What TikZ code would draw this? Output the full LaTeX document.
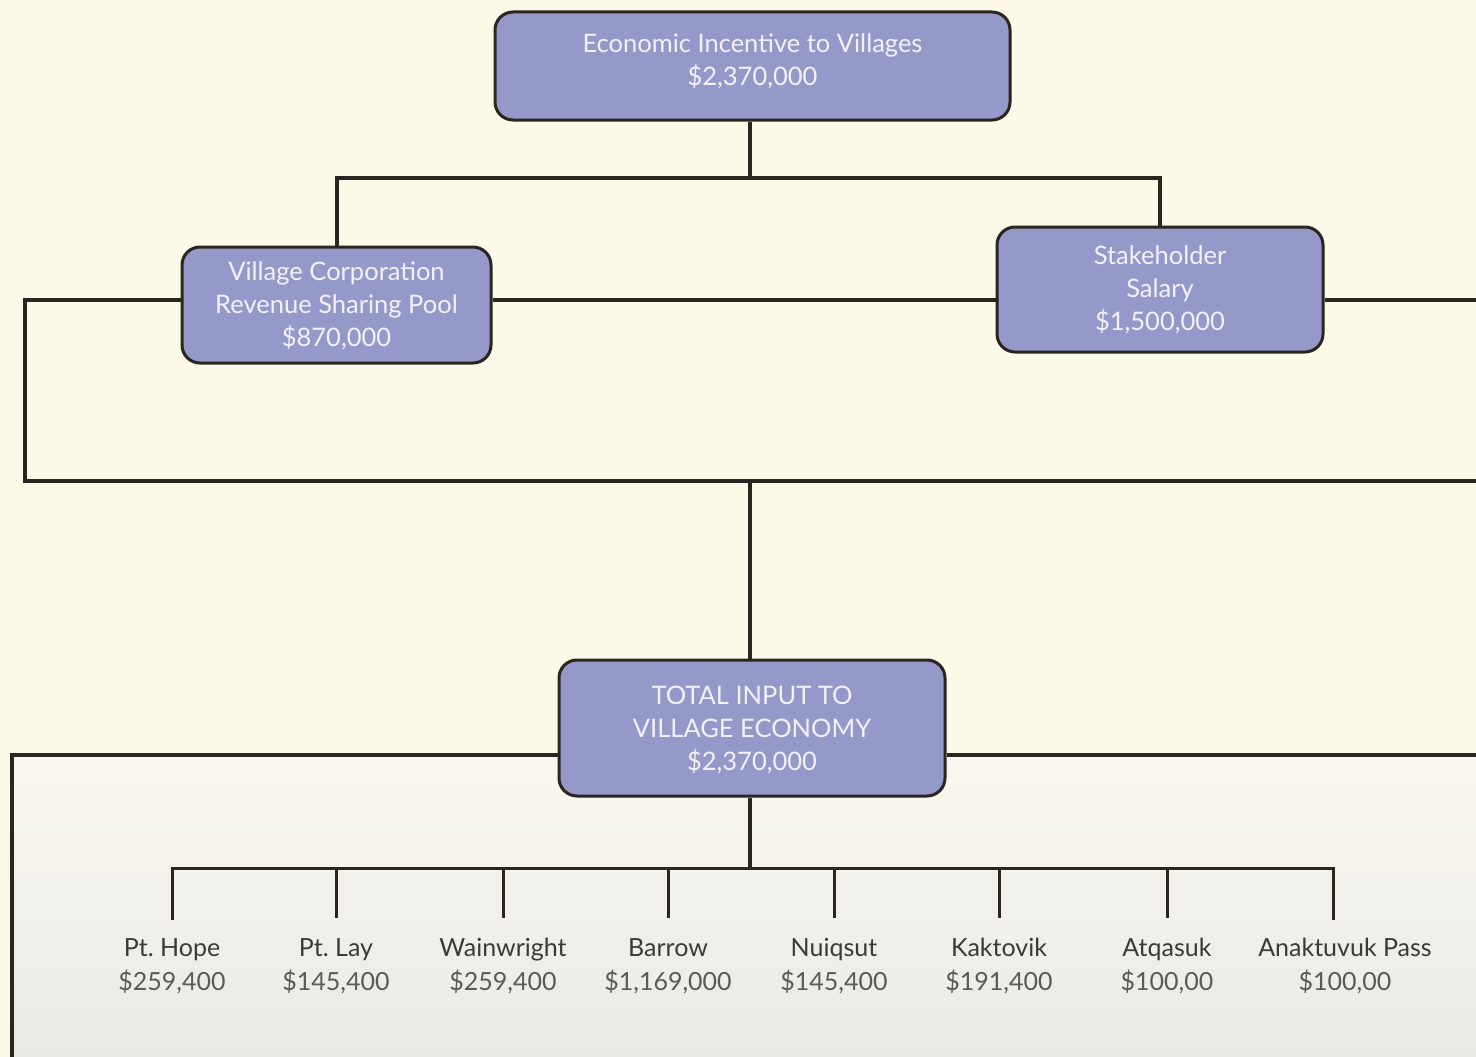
\documentclass[tikz,border=0pt]{standalone}
\usepackage{fontspec}
\setmainfont{Lato}
\frenchspacing
\definecolor{bg}{HTML}{FDF9E8}
\definecolor{boxfill}{HTML}{9599CA}
\definecolor{ink}{HTML}{2B251F}
\definecolor{boxtext}{HTML}{F3F1F8}
\definecolor{leafname}{HTML}{3C3A38}
\definecolor{leafamt}{HTML}{5C5A58}
\definecolor{gradtop}{HTML}{F9F7EF}
\definecolor{gradbot}{HTML}{EAE9E5}
\tikzset{
  fund/.style={draw=ink, line width=3pt, fill=boxfill, rounded corners=18pt,
    inner sep=0pt},
  fundtext/.style={text=boxtext, align=center, font=\fontsize{25.5}{33}\selectfont, inner sep=0pt},
  link/.style={draw=ink, line width=4pt},
  drop/.style={draw=ink, line width=3pt},
  leaf/.style={align=center, inner sep=0pt, font=\fontsize{25}{34}\selectfont}
}
\begin{document}
\begin{tikzpicture}[x=1pt,y=-1pt]
\fill[bg] (0,0) rectangle (1476,1057);
\useasboundingbox (0,0) rectangle (1476,1057);
\fill[top color=gradtop, bottom color=gradbot] (12,755) rectangle (1476,1057);

% boxes
\node[fund, minimum width=515pt, minimum height=108pt] (top) at (752.5,66) {};
\node[fundtext] (toptext) at (752.5,61) {Economic Incentive to Villages\\\$2,370,000};
\node[fund, minimum width=309pt, minimum height=116pt] (pool) at (336.5,305) {};
\node[fundtext] (pooltext) at (336.5,306) {Village Corporation\\Revenue Sharing Pool\\\$870,000};
\node[fund, minimum width=326pt, minimum height=125pt] (salary) at (1160,289.5) {};
\node[fundtext] (salarytext) at (1160,290) {Stakeholder\\Salary\\\$1,500,000};
\node[fund, minimum width=386pt, minimum height=136pt] (total) at (752,728) {};
\node[fundtext] (totaltext) at (752,730) {TOTAL INPUT TO\\VILLAGE ECONOMY\\\$2,370,000};

% coordinates
\coordinate (j1) at (750,178);
\coordinate (lw) at (25,300);
\coordinate (lb) at (25,481);
\coordinate (rb) at (1476,481);
\coordinate (rw) at (1476,300);
\coordinate (jm) at (750,481);
\coordinate (tl) at (12,755);
\coordinate (tlb) at (12,1057);
\coordinate (tr) at (1476,755);
\coordinate (j2) at (750,868);

% connectors
\draw[link] (top.south -| j1) -- (j1);
\draw[link, line cap=rect] (pool.north) |- (j1) -| (salary.north);
\draw[link] (pool.west |- lw) -- (lw) -- (lb) -- (rb);
\draw[link] (pool.east |- lw) -- (salary.west |- lw);
\draw[link] (salary.east |- rw) -- (rw);
\draw[link] (jm) -- (total.north -| jm);
\draw[link] (total.west |- tl) -- (tl) -- (tlb);
\draw[link] (total.east |- tr) -- (tr);
\draw[link] (total.south -| j2) -- (j2);

% leaves
\foreach \n/\x/\name/\amt in {
  hope/172/{Pt. Hope}/{\$259,400},
  lay/336/{Pt. Lay}/{\$145,400},
  wain/503/{Wainwright}/{\$259,400},
  barrow/668/{Barrow}/{\$1,169,000},
  nuiq/834/{Nuiqsut}/{\$145,400},
  kakt/999/{Kaktovik}/{\$191,400},
  atq/1167/{Atqasuk}/{\$100,00},
  anak/1345/{Anaktuvuk Pass}/{\$100,00}} {
  \node[leaf, anchor=north] (\n) at (\x,938)
    {\textcolor{leafname}{\name}\\\textcolor{leafamt}{\amt}};
}
\coordinate (hl) at (172,868);
\coordinate (hr) at (1333,868);
\foreach \n/\x in {hope/172,lay/336,wain/503,barrow/668,nuiq/834,kakt/999,atq/1167,anak/1333}
  \coordinate (\n top) at (\x,918);
\draw[drop, line cap=rect] (hopetop) -- (hl) -- (hr) -- (anaktop);
\foreach \n in {lay,wain,barrow,nuiq,kakt,atq}
  \draw[drop] (\n top) -- (\n top |- hl);
\end{tikzpicture}
\end{document}
